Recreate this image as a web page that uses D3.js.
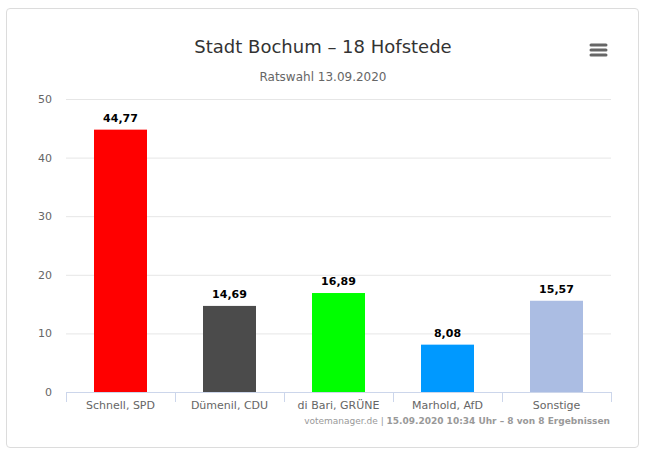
<!DOCTYPE html>
<html>
<head>
<meta charset="utf-8">
<script src="https://cdn.jsdelivr.net/npm/d3@7"></script>
<style>
  body { margin: 0; background: #fff; font-family: "DejaVu Sans", sans-serif; }
  #card {
    position: absolute; left: 6px; top: 8px; width: 633px; height: 440px;
    border: 1px solid #dcdcdc; border-radius: 4px; box-sizing: border-box;
  }
</style>
</head>
<body>
<div id="card"></div>
<svg id="chart" width="655" height="465" style="position:absolute;left:0;top:0"></svg>
<script>
const categories = ["Schnell, SPD", "Dümenil, CDU", "di Bari, GRÜNE", "Marhold, AfD", "Sonstige"];
const values = [44.77, 14.69, 16.89, 8.08, 15.57];
const colors = ["#ff0000", "#4b4b4b", "#00ff00", "#0099ff", "#abbde3"];
const yTicks = [0, 10, 20, 30, 40, 50];

const svg = d3.select("#chart");
const margin = {left: 66, right: 611, top: 99, bottom: 392};

const x = d3.scaleBand().domain(categories).range([margin.left, margin.right]).paddingInner(0).paddingOuter(0);
const y = d3.scaleLinear().domain([0, 50]).range([margin.bottom, margin.top]);

// grid
svg.append("g").selectAll("line").data(yTicks.filter(d => d > 0)).join("line")
  .attr("x1", margin.left).attr("x2", margin.right)
  .attr("y1", d => y(d) + 0.5).attr("y2", d => y(d) + 0.5)
  .attr("stroke", "#e6e6e6");

// y labels
svg.append("g").selectAll("text").data(yTicks).join("text")
  .attr("x", 52).attr("y", d => y(d) + 4)
  .attr("text-anchor", "end").attr("font-size", 11).attr("fill", "#666")
  .text(d => d);

// bars
const bw = 53;
svg.append("g").selectAll("rect").data(values).join("rect")
  .attr("x", (d, i) => x(categories[i]) + (x.bandwidth() - bw) / 2)
  .attr("width", bw)
  .attr("y", d => y(d))
  .attr("height", d => y(0) - y(d))
  .attr("fill", (d, i) => colors[i]);

// data labels
svg.append("g").selectAll("text").data(values).join("text")
  .attr("x", (d, i) => x(categories[i]) + x.bandwidth() / 2)
  .attr("y", d => y(d) - 8)
  .attr("text-anchor", "middle").attr("font-size", 11).attr("font-weight", "bold")
  .attr("fill", "#000").attr("stroke", "#fff").attr("stroke-width", 2)
  .attr("paint-order", "stroke")
  .text(d => d.toFixed(2).replace(".", ","));

// x axis
const xa = svg.append("g");
xa.append("line").attr("x1", margin.left).attr("x2", margin.right)
  .attr("y1", y(0) + 0.5).attr("y2", y(0) + 0.5).attr("stroke", "#ccd6eb");
const bounds = categories.map(c => x(c)).concat([margin.right]);
xa.selectAll("line.tick").data(bounds).join("line").attr("class", "tick")
  .attr("x1", d => d + 0.5).attr("x2", d => d + 0.5)
  .attr("y1", y(0)).attr("y2", y(0) + 10).attr("stroke", "#ccd6eb");
xa.selectAll("text").data(categories).join("text")
  .attr("x", d => x(d) + x.bandwidth() / 2).attr("y", y(0) + 17)
  .attr("text-anchor", "middle").attr("font-size", 11).attr("fill", "#666")
  .text(d => d);

// title
svg.append("text").attr("x", 323).attr("y", 53).attr("text-anchor", "middle")
  .attr("font-size", 18).attr("fill", "#333").text("Stadt Bochum – 18 Hofstede");
svg.append("text").attr("x", 323).attr("y", 81).attr("text-anchor", "middle")
  .attr("font-size", 12).attr("fill", "#666").text("Ratswahl 13.09.2020");

// menu icon
svg.append("g").selectAll("line").data([45, 50, 55]).join("line")
  .attr("x1", 591).attr("x2", 606).attr("y1", d => d).attr("y2", d => d)
  .attr("stroke", "#666").attr("stroke-width", 3).attr("stroke-linecap", "round");

// credits
const cr = svg.append("text").attr("x", 610).attr("y", 424).attr("text-anchor", "end")
  .attr("font-size", 9).attr("fill", "#999");
cr.append("tspan").text("votemanager.de | ");
cr.append("tspan").attr("font-weight", "bold").text("15.09.2020 10:34 Uhr – 8 von 8 Ergebnissen");
</script>
</body>
</html>
